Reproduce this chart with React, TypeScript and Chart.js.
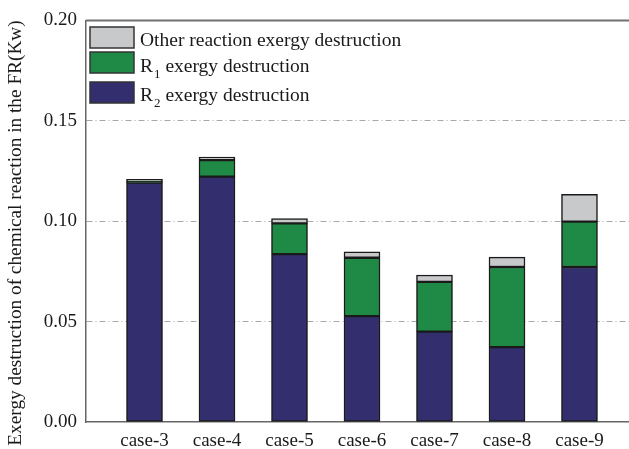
import React, { useEffect, useRef } from "react";
import { Chart, registerables } from "chart.js";

Chart.register(...registerables);

const categories = ["case-3", "case-4", "case-5", "case-6", "case-7", "case-8", "case-9"];
const r2Values = [0.1192, 0.1222, 0.0836, 0.0527, 0.045, 0.0373, 0.0772];
const r1Values = [0.0005, 0.0082, 0.0153, 0.0291, 0.0248, 0.0399, 0.0226];
const otherValues = [0.0011, 0.0015, 0.0024, 0.0029, 0.0034, 0.0049, 0.0136];
const yTicks = [0, 0.05, 0.1, 0.15, 0.2];

const FONT = "'Liberation Serif', 'Times New Roman', serif";
const BLUE = "#332e6e";
const GREEN = "#1f8a45";
const GRAY = "#c8c9cb";

const legendItems = [
  { main: "Other reaction exergy destruction", sub: "", color: GRAY },
  { main: "R", sub: "1", rest: " exergy destruction", color: GREEN },
  { main: "R", sub: "2", rest: " exergy destruction", color: BLUE },
];

const decorPlugin = {
  id: "decor",
  afterDraw(chart: any) {
    const ctx = chart.ctx;
    const area = chart.chartArea;
    ctx.save();
    // top border
    ctx.strokeStyle = "#707070";
    ctx.lineWidth = 2;
    ctx.beginPath();
    ctx.moveTo(area.left, area.top);
    ctx.lineTo(area.right, area.top);
    ctx.stroke();

    // legend
    const boxX = area.left + 4;
    const boxW = 44;
    const boxH = 21;
    const boxTops = [27, 52, 82];
    const baselines = [46, 71.5, 101];
    legendItems.forEach((it: any, i: number) => {
      ctx.fillStyle = it.color;
      ctx.fillRect(boxX, boxTops[i], boxW, boxH);
      ctx.strokeStyle = "#333333";
      ctx.lineWidth = 1.5;
      ctx.strokeRect(boxX, boxTops[i], boxW, boxH);
      ctx.fillStyle = "#1a1a1a";
      ctx.textAlign = "left";
      ctx.textBaseline = "alphabetic";
      ctx.font = `19.5px ${FONT}`;
      let x = boxX + boxW + 6;
      ctx.fillText(it.main, x, baselines[i]);
      if (it.sub) {
        x += ctx.measureText(it.main).width + 1;
        ctx.font = `13px ${FONT}`;
        ctx.fillText(it.sub, x, baselines[i] + 6);
        x += ctx.measureText(it.sub).width;
        ctx.font = `19.5px ${FONT}`;
        ctx.fillText(it.rest, x, baselines[i]);
      }
    });

    // y-axis title
    ctx.translate(16, 233);
    ctx.rotate(-Math.PI / 2);
    ctx.font = `19.3px ${FONT}`;
    ctx.fillStyle = "#1a1a1a";
    ctx.textAlign = "center";
    ctx.textBaseline = "middle";
    ctx.fillText("Exergy destruction of chemical reaction in the FR(Kw)", 0, 0);
    ctx.restore();
  },
};

export default function App() {
  const ref = useRef<HTMLCanvasElement | null>(null);

  useEffect(() => {
    if (!ref.current) return;
    const mk = (vals: number[]) => vals.map((v, i) => ({ x: i, y: v }));
    const common = {
      borderColor: "#1a1a1a",
      borderWidth: 1.5,
      borderSkipped: false,
      barThickness: 36,
    };
    const chart = new Chart(ref.current, {
      type: "bar",
      data: {
        datasets: [
          { label: "R2 exergy destruction", data: mk(r2Values), backgroundColor: BLUE, ...common },
          { label: "R1 exergy destruction", data: mk(r1Values), backgroundColor: GREEN, ...common },
          { label: "Other reaction exergy destruction", data: mk(otherValues), backgroundColor: GRAY, ...common },
        ] as any,
      },
      options: {
        animation: false,
        responsive: true,
        maintainAspectRatio: false,
        layout: { padding: { top: 16, left: 0, right: 0, bottom: 0 } },
        plugins: { legend: { display: false }, tooltip: { enabled: false } },
        scales: {
          x: {
            type: "linear",
            stacked: true,
            offset: false,
            min: -0.807,
            max: 6.683,
            grid: { display: false, drawTicks: false },
            border: { display: true, color: "#666666", width: 1.5 },
            afterBuildTicks: (scale: any) => {
              scale.ticks = categories.map((_, i) => ({ value: i }));
            },
            afterFit: (scale: any) => {
              scale.height = 27;
            },
            ticks: {
              padding: 8,
              color: "#1a1a1a",
              font: { family: FONT, size: 19 },
              callback: (v: any) => categories[v] ?? "",
            },
          },
          y: {
            stacked: true,
            min: 0,
            max: 0.2,
            afterBuildTicks: (scale: any) => {
              scale.ticks = yTicks.map((v) => ({ value: v }));
            },
            afterFit: (scale: any) => {
              scale.width = 86;
            },
            grid: {
              drawTicks: false,
              color: (c: any) =>
                c.tick && (c.tick.value === 0 || c.tick.value === 0.2) ? "rgba(0,0,0,0)" : "#a8a8a8",
              lineWidth: 1,
            },
            border: { display: true, color: "#666666", width: 1.5, dash: [6, 3, 1, 3] },
            ticks: {
              padding: 9,
              color: "#1a1a1a",
              font: { family: FONT, size: 19 },
              callback: (v: any) => Number(v).toFixed(2),
            },
          },
        },
      } as any,
      plugins: [decorPlugin],
    });
    return () => chart.destroy();
  }, []);

  return (
    <div style={{ position: "fixed", left: 0, top: 0, width: 629, height: 449, background: "#fff" }}>
      <canvas ref={ref} />
    </div>
  );
}
